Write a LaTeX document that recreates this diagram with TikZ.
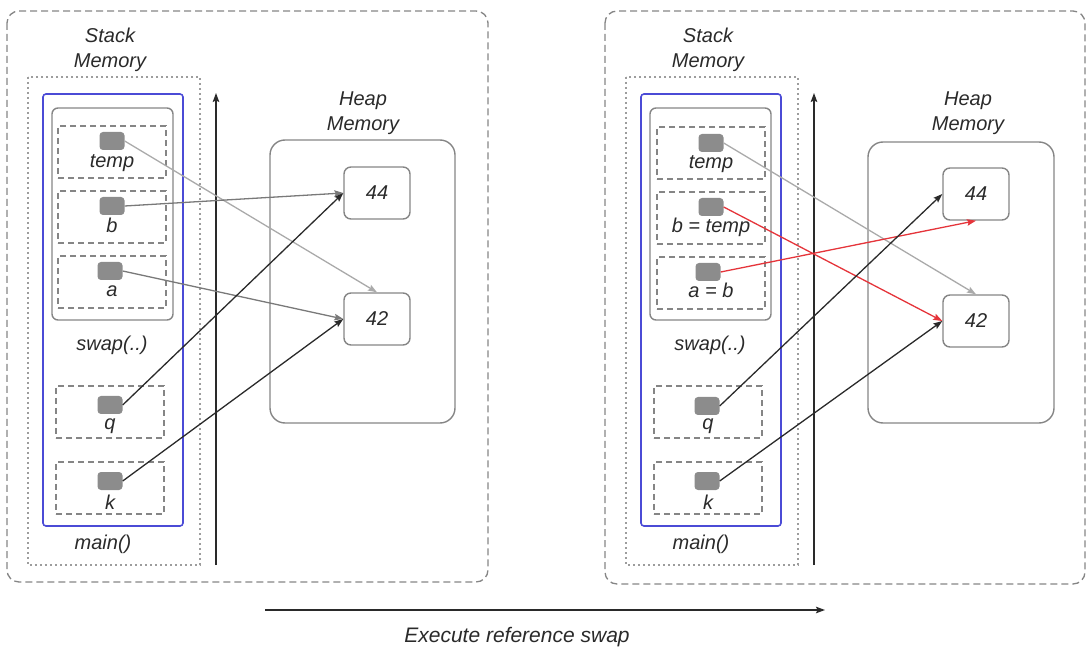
\documentclass[tikz,border=0pt]{standalone}
\usepackage{fontspec}
\setmainfont{Liberation Sans}
\usetikzlibrary{arrows.meta}
\definecolor{boxgray}{HTML}{858585}
\definecolor{ptrgray}{HTML}{8C8C8C}
\definecolor{txtgray}{HTML}{2A2A2A}
\definecolor{stackblue}{HTML}{4B4BD6}
\definecolor{swapred}{HTML}{E5343A}
\newcommand{\lblfont}{\fontsize{20}{25}\selectfont\itshape}

\tikzset{
  lbl/.style={font=\lblfont, text=txtgray, inner sep=0pt},
  var/.style={draw=boxgray, dash pattern=on 6pt off 4pt, line width=1.3pt,
    minimum width=108pt, minimum height=52pt, inner sep=0pt},
  ptr/.style={fill=ptrgray, rounded corners=3.5pt, minimum width=25pt,
    minimum height=18pt, inner sep=0pt},
  cell/.style={draw=boxgray, rounded corners=7pt, line width=1.4pt,
    minimum width=66pt, minimum height=52pt, font=\lblfont, text=txtgray},
  panel/.style={draw=boxgray, dash pattern=on 7pt off 4pt, line width=1.3pt,
    rounded corners=12pt},
  ref/.style={-{Stealth[length=9pt,width=6.5pt,inset=1.5pt]}, line width=1.3pt}
}

\begin{document}
\begin{tikzpicture}[x=1pt, y=-1pt]
  \useasboundingbox (0,0) rectangle (1088,652);

  \begin{scope}
    \draw[panel] (7,11) rectangle (488,582);
    \node[lbl, align=center] (stack1) at (110,50) {Stack\\Memory};
    \draw[boxgray!80, dash pattern=on 2pt off 3pt, line width=1.2pt] (28,77) rectangle (200,565);
    \draw[stackblue, line width=1.6pt, rounded corners=3pt] (43,94) rectangle (183,526);
    \draw[boxgray, line width=1.4pt, rounded corners=6pt] (52,108) rectangle (173,320);

    \node[var] (vtemp1) at (112,152) {};
    \node[ptr] (ptemp1) at (112,141) {};
    \node[lbl, anchor=base] (ltemp1) at (112,168) {temp};
    \node[var] (vb1) at (112,217) {};
    \node[ptr] (pb1) at (112,206) {};
    \node[lbl, anchor=base] (lb1) at (112,233) {b};
    \node[var] (va1) at (112,282) {};
    \node[ptr] (pa1) at (110,271) {};
    \node[lbl, anchor=base] (la1) at (112,297) {a};
    \node[lbl] (swap1) at (112,345) {swap(..)};
    \node[var] (vq1) at (110,412) {};
    \node[ptr] (pq1) at (110,405) {};
    \node[lbl, anchor=base] (lq1) at (110,430) {q};
    \node[var] (vk1) at (110,488) {};
    \node[ptr] (pk1) at (110,481) {};
    \node[lbl, anchor=base] (lk1) at (110,509) {k};
    \node[lbl] (main1) at (103,544) {main()};

    \coordinate (up1) at (216,93);
    \coordinate (low1) at (216,565);
    \draw[ref, txtgray] (low1) -- (up1);

    \node[lbl, align=center] (heap1) at (363,113) {Heap\\Memory};
    \draw[boxgray, line width=1.4pt, rounded corners=15pt] (270,140) rectangle (455,423);
    \node[cell] (c44a) at (377,193) {44};
    \node[cell] (c42a) at (377,319) {42};

    \draw[ref, boxgray!70] (ptemp1.east) -- (c42a.north);
    \draw[ref, boxgray!110] (pb1.east) -- (c44a.west);
    \draw[ref, boxgray!110] (pa1.east) -- (c42a.west);
    \draw[ref, txtgray] (pq1.east) -- (c44a.west);
    \draw[ref, txtgray] (pk1.east) -- (c42a.west);
  \end{scope}

  \begin{scope}[shift={(598,0)}]
    \draw[panel] (7,11) rectangle (487,584);
    \node[lbl, align=center] (stack2) at (110,50) {Stack\\Memory};
    \draw[boxgray!80, dash pattern=on 2pt off 3pt, line width=1.2pt] (28,77) rectangle (200,565);
    \draw[stackblue, line width=1.6pt, rounded corners=3pt] (43,94) rectangle (183,526);
    \draw[boxgray, line width=1.4pt, rounded corners=6pt] (52,108) rectangle (173,320);

    \node[var] (vtemp2) at (113,153) {};
    \node[ptr] (ptemp2) at (113,143) {};
    \node[lbl, anchor=base] (ltemp2) at (113,169) {temp};
    \node[var] (vb2) at (113,218) {};
    \node[ptr] (pb2) at (113,207) {};
    \node[lbl, anchor=base] (lb2) at (113,233) {b = temp};
    \node[var] (va2) at (113,283) {};
    \node[ptr] (pa2) at (110,272) {};
    \node[lbl, anchor=base] (la2) at (113,298) {a = b};
    \node[lbl] (swap2) at (112,345) {swap(..)};
    \node[var] (vq2) at (110,412) {};
    \node[ptr] (pq2) at (109,406) {};
    \node[lbl, anchor=base] (lq2) at (110,430) {q};
    \node[var] (vk2) at (110,488) {};
    \node[ptr] (pk2) at (109,481) {};
    \node[lbl, anchor=base] (lk2) at (110,509) {k};
    \node[lbl] (main2) at (103,544) {main()};

    \coordinate (up2) at (216,93);
    \coordinate (low2) at (216,565);
    \draw[ref, txtgray] (low2) -- (up2);

    \node[lbl, align=center] (heap2) at (370,113) {Heap\\Memory};
    \draw[boxgray, line width=1.4pt, rounded corners=15pt] (270,142) rectangle (456,423);
    \node[cell] (c44b) at (378,194) {44};
    \node[cell] (c42b) at (378,321) {42};

    \draw[ref, boxgray!70] (ptemp2.east) -- (c42b.north);
    \draw[ref, swapred] (pb2.east) -- (c42b.west);
    \draw[ref, swapred] (pa2.east) -- (c44b.south);
    \draw[ref, txtgray] (pq2.east) -- (c44b.west);
    \draw[ref, txtgray] (pk2.east) -- (c42b.west);
  \end{scope}

  \coordinate (before) at (265,610);
  \coordinate (after) at (825,610);
  \draw[ref, txtgray] (before) -- (after);
  \node[lbl, font=\fontsize{21}{25}\selectfont\itshape] (exec) at (517,637) {Execute reference swap};
\end{tikzpicture}
\end{document}
